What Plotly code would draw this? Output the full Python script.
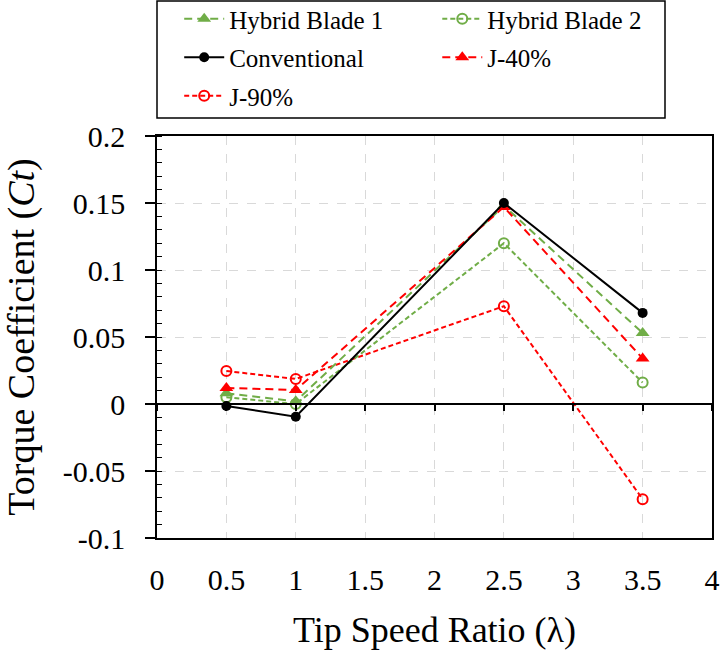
import plotly.graph_objects as go

tsr = [0.5, 1, 2.5, 3.5]
hybrid1 = [0.008, 0.002, 0.148, 0.053]
hybrid2 = [0.005, 0.000, 0.120, 0.016]
conventional = [-0.0015, -0.0095, 0.150, 0.068]
j40 = [0.012, 0.0105, 0.147, 0.034]
j90 = [0.0246, 0.0187, 0.073, -0.071]

x_ticks = [0, 0.5, 1, 1.5, 2, 2.5, 3, 3.5, 4]
x_tick_text = ["0", "0.5", "1", "1.5", "2", "2.5", "3", "3.5", "4"]
y_ticks = [-0.1, -0.05, 0, 0.05, 0.1, 0.15, 0.2]
y_tick_text = ["-0.1", "-0.05", "0", "0.05", "0.1", "0.15", "0.2"]

GREEN = "#70AD47"
RED = "#FF0000"
FONT = "Liberation Serif, Times New Roman, serif"

fig = go.Figure()

fig.add_trace(go.Scatter(x=tsr, y=j90, name="J-90%", mode="lines+markers",
                         legend="legend", legendrank=3, legendgroup="g5",
                         line=dict(color=RED, width=2, dash="5px,3px"),
                         marker=dict(symbol="circle-open", size=10, color=RED, line=dict(width=2))))
fig.add_trace(go.Scatter(x=tsr, y=hybrid2, name="Hybrid Blade 2", mode="lines+markers",
                         legend="legend2", legendrank=1, legendgroup="g2",
                         line=dict(color=GREEN, width=2, dash="5px,3px"),
                         marker=dict(symbol="circle-open", size=10, color=GREEN, line=dict(width=2))))
fig.add_trace(go.Scatter(x=tsr, y=hybrid1, name="Hybrid Blade 1", mode="lines+markers",
                         legend="legend", legendrank=1, legendgroup="g1",
                         line=dict(color=GREEN, width=2, dash="8px,5px"),
                         marker=dict(symbol="triangle-up", size=12, color=GREEN)))
fig.add_trace(go.Scatter(x=tsr, y=j40, name="J-40%", mode="lines+markers",
                         legend="legend2", legendrank=2, legendgroup="g4",
                         line=dict(color=RED, width=2, dash="8px,5px"),
                         marker=dict(symbol="triangle-up", size=12, color=RED)))
fig.add_trace(go.Scatter(x=tsr, y=conventional, name="Conventional", mode="lines+markers",
                         legend="legend", legendrank=2, legendgroup="g3",
                         line=dict(color="black", width=2),
                         marker=dict(symbol="circle", size=10, color="black")))

# invisible trace to carry the tick marks on the zero line
fig.add_trace(go.Scatter(x=[0, 4], y=[0, 0], xaxis="x2", mode="lines",
                         line=dict(width=0), showlegend=False, hoverinfo="skip"))

legend_common = dict(orientation="v", yanchor="top", xanchor="left",
                     font=dict(family=FONT, size=25, color="black"),
                     itemwidth=40, tracegroupgap=3,
                     bgcolor="rgba(0,0,0,0)", borderwidth=0, traceorder="grouped")

fig.update_layout(
    width=722, height=650,
    margin=dict(l=157, r=10, t=136, b=112, autoexpand=False),
    paper_bgcolor="white", plot_bgcolor="white",
    font=dict(family=FONT, color="black"),
    showlegend=True,
    legend=dict(x=0.040, y=1 + (136 + 4) / 402, **legend_common),
    legend2=dict(x=0.505, y=1 + (136 + 4) / 402, **legend_common),
    xaxis=dict(range=[0, 4], tickvals=x_ticks, ticktext=x_tick_text, automargin=False,
               showline=True, linecolor="black", linewidth=1.5, mirror=True,
               showgrid=True, gridcolor="#d9d9d9", griddash="dash", gridwidth=1,
               ticks="", zeroline=False,
               tickfont=dict(family=FONT, size=30, color="black"),
               ticklabelstandoff=14,
               title=dict(text="Tip Speed Ratio (λ)", font=dict(family=FONT, size=36, color="black"),
                          standoff=24)),
    xaxis2=dict(range=[0, 4], overlaying="x", anchor="free", position=1/3, side="bottom",
                tickvals=x_ticks, showticklabels=False, ticks="outside", ticklen=6,
                tickcolor="black", tickwidth=1.5, showline=True, linecolor="black", linewidth=1.5,
                showgrid=False, zeroline=False),
    yaxis=dict(range=[-0.1, 0.2], tickvals=y_ticks, ticktext=y_tick_text, automargin=False,
               showline=True, linecolor="black", linewidth=1.5, mirror=True,
               showgrid=True, gridcolor="#d9d9d9", griddash="dash", gridwidth=1,
               ticks="outside", ticklen=10, tickcolor="black", tickwidth=1.5,
               minor=dict(ticks="inside", ticklen=5, dtick=0.01, tick0=0, tickcolor="black",
                          tickwidth=1, showgrid=False),
               zeroline=False,
               tickfont=dict(family=FONT, size=30, color="black"),
               ticklabelstandoff=14,
               title=dict(text="Torque Coefficient (<i>Ct</i>)",
                          font=dict(family=FONT, size=38, color="black"), standoff=16)),
)

# legend frame
fig.add_shape(type="rect", xref="paper", yref="paper",
              x0=0, x1=(665 - 157) / 555, y0=1 + (136 - 118) / 402, y1=1 + (136 - 1) / 402,
              line=dict(color="black", width=1.5), fillcolor="rgba(0,0,0,0)", layer="above")

fig.write_html("out.html")
